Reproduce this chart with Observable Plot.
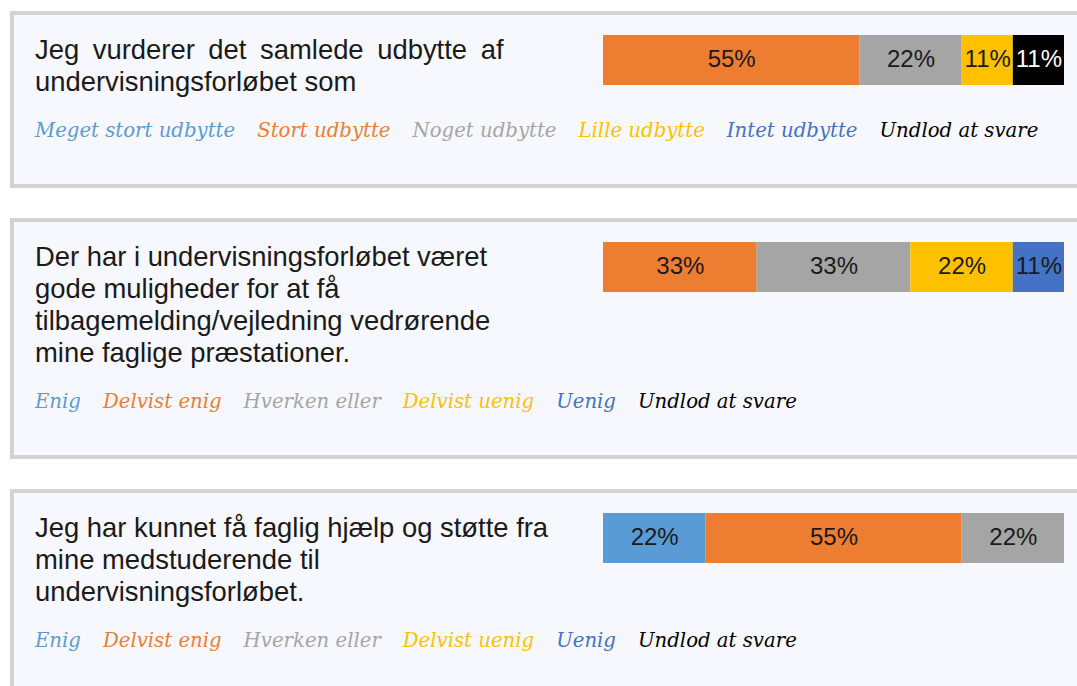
<!DOCTYPE html>
<html><head><meta charset="utf-8">
<script src="https://cdn.jsdelivr.net/npm/d3@7"></script>
<script src="https://cdn.jsdelivr.net/npm/@observablehq/plot@0.6"></script>
<style>
html,body{margin:0;padding:0;background:#fff;overflow:hidden;width:1077px;height:686px;}
#root{padding-top:11px;}
.panel{position:relative;margin-left:10px;width:1100px;background:#f7f8fd;border:4px solid #d3d3d3;border-right:none;margin-bottom:30px;box-sizing:border-box;padding:19px 0 41px 21px;}
.q{font-family:"Liberation Sans",Arial,sans-serif;font-size:27.4px;line-height:32px;color:#1a1a1a;white-space:nowrap;}
.legend{margin-top:21px;font-family:"DejaVu Serif",serif;font-style:italic;font-size:19.7px;line-height:24px;display:flex;gap:22px;white-space:nowrap;}
.bar{position:absolute;left:589px;top:20px;}
</style></head><body><div id="root"></div>
<script>
const udbytteCategories = ["Meget stort udbytte","Stort udbytte","Noget udbytte","Lille udbytte","Intet udbytte","Undlod at svare"];
const enigCategories = ["Enig","Delvist enig","Hverken eller","Delvist uenig","Uenig","Undlod at svare"];
const categoryColors = ["#5b9bd5","#ed7d31","#a5a5a5","#ffc000","#4472c4","#000000"];

const q1Lines = ["Jeg vurderer det samlede udbytte af","undervisningsforløbet som"];
const q2Lines = ["Der har i undervisningsforløbet været","gode muligheder for at få","tilbagemelding/vejledning vedrørende","mine faglige præstationer."];
const q3Lines = ["Jeg har kunnet få faglig hjælp og støtte fra","mine medstuderende til","undervisningsforløbet."];

const q1Values = [0, 55.6, 22.2, 11.1, 0, 11.1];
const q1Labels = [null, "55%", "22%", "11%", null, "11%"];
const q2Values = [0, 33.3, 33.3, 22.2, 11.1, 0];
const q2Labels = [null, "33%", "33%", "22%", "11%", null];
const q3Values = [22.2, 55.6, 22.2, 0, 0, 0];
const q3Labels = ["22%", "55%", "22%", null, null, null];

const panels = [
  {lines: q1Lines, wordSpacing: [6, 0], cats: udbytteCategories, values: q1Values, labels: q1Labels},
  {lines: q2Lines, wordSpacing: [0, 0, 0, 0], cats: enigCategories, values: q2Values, labels: q2Labels},
  {lines: q3Lines, wordSpacing: [0, 0, 0], cats: enigCategories, values: q3Values, labels: q3Labels}
];

const root = document.getElementById("root");
for (const p of panels) {
  const panel = document.createElement("div");
  panel.className = "panel";
  const q = document.createElement("div");
  q.className = "q";
  p.lines.forEach((l, i) => {
    if (i) q.appendChild(document.createElement("br"));
    const s = document.createElement("span");
    s.textContent = l;
    s.style.wordSpacing = p.wordSpacing[i] + "px";
    q.appendChild(s);
  });
  panel.appendChild(q);

  const legend = document.createElement("div");
  legend.className = "legend";
  p.cats.forEach((c, i) => {
    const s = document.createElement("span");
    s.textContent = c;
    s.style.color = categoryColors[i];
    legend.appendChild(s);
  });
  panel.appendChild(legend);

  const rows = p.cats.map((c, i) => ({category: c, value: p.values[i], label: p.labels[i]}));
  const total = d3.sum(p.values);
  const chart = Plot.plot({
    width: 461,
    height: 50,
    margin: 0,
    x: {domain: [0, total], axis: null},
    color: {domain: p.cats, range: categoryColors},
    style: {background: "transparent", fontFamily: "'Liberation Sans', Arial, sans-serif", overflow: "visible"},
    marks: [
      Plot.barX(rows, Plot.stackX({x: "value", fill: "category"})),
      Plot.text(rows, Plot.stackX({x: "value", text: d => d.category === "Undlod at svare" ? null : d.label, fill: "#1a1a1a", fontSize: 24, dy: -1})),
      Plot.text(rows, Plot.stackX({x: "value", text: d => d.category === "Undlod at svare" ? d.label : null, fill: "#ffffff", fontSize: 24, dy: -1}))
    ]
  });
  const barDiv = document.createElement("div");
  barDiv.className = "bar";
  barDiv.appendChild(chart);
  panel.appendChild(barDiv);
  root.appendChild(panel);
}
</script></body></html>
